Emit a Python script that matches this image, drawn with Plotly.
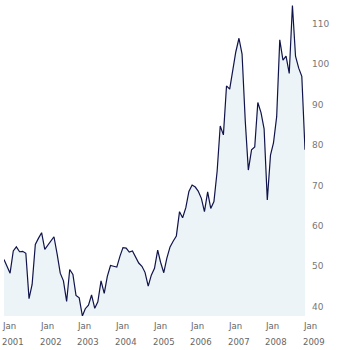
import plotly.graph_objects as go
import pandas as pd

# Monthly values, Jan 2001 .. Jan 2009
dates = pd.date_range("2001-01-01", "2009-01-01", freq="MS")
values = [
    51.7, 49.8, 48.3, 53.8, 54.8, 53.6, 53.7, 53.2, 42.0, 45.5, 55.4, 56.9,   # 2001
    58.3, 54.2, 55.2, 56.2, 57.3, 53.0, 48.3, 46.4, 41.3, 49.2, 48.0, 42.8,   # 2002
    42.2, 37.7, 39.5, 40.4, 42.9, 39.6, 41.2, 46.4, 43.3, 47.5, 50.2, 50.0,   # 2003
    49.8, 52.5, 54.6, 54.5, 53.5, 53.8, 52.2, 50.8, 50.0, 48.5, 45.1, 47.8,   # 2004
    49.5, 54.0, 51.0, 48.4, 52.0, 54.8, 56.2, 57.5, 63.5, 62.0, 64.5, 68.5,   # 2005
    70.1, 69.6, 68.6, 66.8, 63.5, 68.4, 64.3, 66.0, 73.5, 84.7, 82.5, 94.6,   # 2006
    93.8, 98.5, 103.0, 106.4, 102.5, 86.0, 73.8, 78.8, 79.5, 90.5, 88.0, 84.0,  # 2007
    66.4, 77.5, 80.5, 87.0, 106.0, 101.0, 102.0, 97.7, 114.5, 102.0, 99.0, 97.0,  # 2008
    78.8,                                                                     # 2009
]

year_labels = ["2001", "2002", "2003", "2004", "2005", "2006", "2007", "2008", "2009"]
month_label = "Jan"
y_ticks = [40, 50, 60, 70, 80, 90, 100, 110]

fig = go.Figure()
fig.add_trace(go.Scatter(
    x=dates, y=values, mode="lines",
    line=dict(color="#10144a", width=1.2),
    fill="tozeroy", fillcolor="#edf4f7",
    hoverinfo="skip",
))

label_font = dict(family="DejaVu Sans", size=8.5, color="#666666")
for yr in year_labels:
    xd = f"{yr}-01-01"
    fig.add_annotation(x=xd, xref="x", y=0, yref="paper", text=month_label,
                       showarrow=False, xanchor="left", yanchor="middle",
                       xshift=-4, yshift=-10, font=label_font)
    fig.add_annotation(x=xd, xref="x", y=0, yref="paper", text=yr,
                       showarrow=False, xanchor="left", yanchor="middle",
                       xshift=-4, yshift=-26, font=label_font)

fig.update_layout(
    width=350, height=350,
    margin=dict(l=4, r=45, t=0, b=34),
    paper_bgcolor="white", plot_bgcolor="white",
    showlegend=False,
    xaxis=dict(range=["2001-01-01", "2009-01-01"], showgrid=False, zeroline=False,
               showline=False, showticklabels=False, ticks=""),
    yaxis=dict(range=[37.7, 115.86], side="right", tickvals=y_ticks,
               showgrid=False, zeroline=False, showline=False, ticks="",
               ticklabelstandoff=6,
               tickfont=dict(family="DejaVu Sans", size=9, color="#777777")),
)

fig.write_html("out.html")
